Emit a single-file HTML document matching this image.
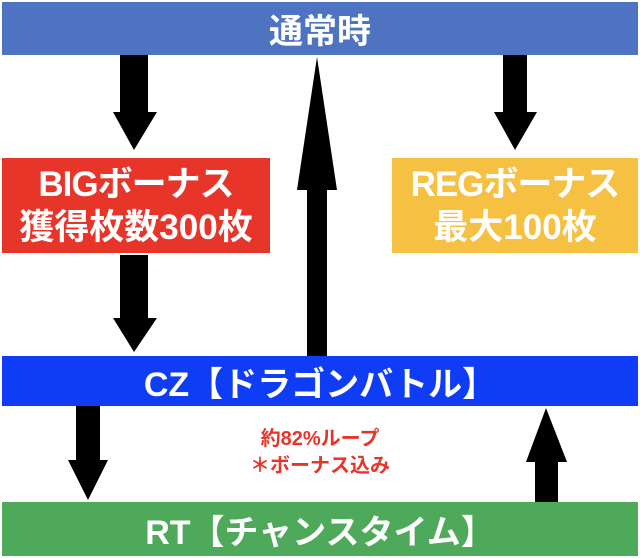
<!DOCTYPE html>
<html><head><meta charset="utf-8"><style>
html,body{margin:0;padding:0;background:#fff;}
body{width:640px;height:558px;position:relative;overflow:hidden;font-family:"Liberation Sans","Noto Sans CJK JP",sans-serif;font-weight:bold;color:#fff;}
.b{position:absolute;display:flex;align-items:center;justify-content:center;text-align:center;white-space:nowrap;}
svg{position:absolute;left:0;top:0;}
</style></head><body>
<div class="b" style="left:2px;top:2px;width:636px;height:53px;background:#4E74C1;font-size:34px;">通常時</div>
<div class="b" style="left:2px;top:158px;width:268px;height:95px;background:#E8352A;font-size:35px;line-height:43px;"><div><span style="letter-spacing:-1px">BIGボーナス</span><br>獲得枚数300枚</div></div>
<div class="b" style="left:392px;top:158px;width:246px;height:95px;background:#F6C143;font-size:35px;line-height:43px;"><div><span style="letter-spacing:-1px">REGボーナス</span><br>最大100枚</div></div>
<div class="b" style="left:2px;top:356px;width:636px;height:50px;background:#0F3CF5;font-size:34px;">CZ【ドラゴンバトル】</div>
<div class="b" style="left:2px;top:502px;width:636px;height:54px;background:#4EAA5A;font-size:34px;">RT【チャンスタイム】</div>
<div class="b" style="left:220px;top:426px;width:200px;height:54px;color:#E8352A;font-size:20px;line-height:27px;">約82%ループ<br>＊ボーナス込み</div>
<svg width="640" height="558">
<g fill="#000">
<polygon points="120,55 148,55 148,112 157,112 134,150 113,112 120,112"/>
<polygon points="503,55 527,55 527,112 537,112 515,150 494,112 503,112"/>
<polygon points="317,57 337,190 327,190 327,356 307,356 307,190 297,190"/>
<polygon points="120,255 148,255 148,318 157,318 134,352 113,318 120,318"/>
<polygon points="76,406 100,406 100,460 108,460 88,500 68,460 76,460"/>
<polygon points="546,408 567,462 558,462 558,502 535,502 535,462 526,462"/>
</g>
</svg>
</body></html>
